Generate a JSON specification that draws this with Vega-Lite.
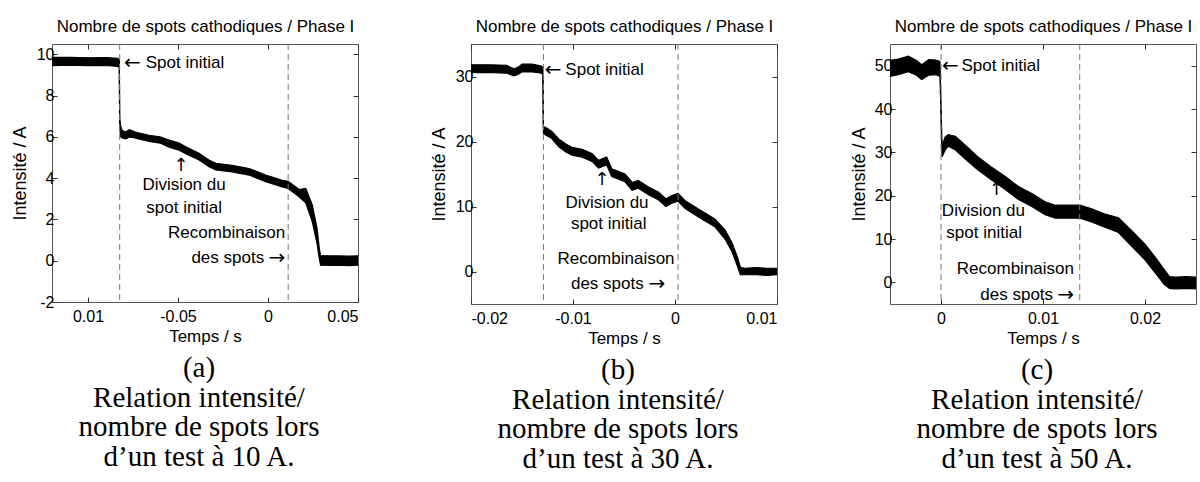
{
  "$schema": "https://vega.github.io/schema/vega-lite/v6.json",
  "background": "white",
  "padding": {"left": 10, "top": 17, "right": 0, "bottom": 0},
  "bounds": "flush",
  "spacing": 113,
  "config": {
    "font": "Liberation Sans",
    "view": {"stroke": "#555", "strokeWidth": 1},
    "axis": {
      "domain": false, "grid": false, "tickSize": -5, "tickColor": "#333",
      "labelFont": "Liberation Sans", "labelFontSize": 16, "labelColor": "black", "labelPadding": 3,
      "titleFont": "Liberation Sans", "titleFontSize": 17, "titleFontWeight": "normal", "titleColor": "black",
      "format": "~r", "labelExpr": "replace(datum.label, '−', '-')"
    },
    "axisBottom": {"labelPadding": 11},
    "title": {"font": "Liberation Serif", "fontSize": 29, "fontWeight": "normal", "lineHeight": 29.5, "color": "black", "orient": "bottom", "offset": 10, "dx": -6},
    "text": {"font": "Liberation Sans", "fontSize": 17, "color": "black"}
  },
  "hconcat": [
    {
      "width": 306, "height": 258,
      "title": {"text": ["(a)", "Relation intensité/", "nombre de spots lors", "d’un test à 10 A."]},
      "data": {"values": [
        {"t": -0.12, "lo": 9.45, "hi": 9.85}, {"t": -0.11, "lo": 9.47, "hi": 9.85}, {"t": -0.10, "lo": 9.45, "hi": 9.83},
        {"t": -0.09, "lo": 9.46, "hi": 9.84}, {"t": -0.0835, "lo": 9.42, "hi": 9.8}, {"t": -0.0826, "lo": 9.35, "hi": 9.72},
        {"t": -0.0824, "lo": 6.45, "hi": 6.9}, {"t": -0.0818, "lo": 6.0, "hi": 6.5}, {"t": -0.081, "lo": 5.95, "hi": 6.3},
        {"t": -0.079, "lo": 5.9, "hi": 6.25}, {"t": -0.077, "lo": 6.0, "hi": 6.35}, {"t": -0.074, "lo": 5.95, "hi": 6.25},
        {"t": -0.072, "lo": 5.9, "hi": 6.2}, {"t": -0.066, "lo": 5.78, "hi": 6.08}, {"t": -0.06, "lo": 5.7, "hi": 6.0},
        {"t": -0.055, "lo": 5.5, "hi": 5.85}, {"t": -0.0494, "lo": 5.35, "hi": 5.7}, {"t": -0.0457, "lo": 5.18, "hi": 5.52},
        {"t": -0.0383, "lo": 4.88, "hi": 5.2}, {"t": -0.0328, "lo": 4.55, "hi": 4.88}, {"t": -0.029, "lo": 4.4, "hi": 4.72},
        {"t": -0.02, "lo": 4.3, "hi": 4.62}, {"t": -0.0105, "lo": 4.15, "hi": 4.47}, {"t": -0.0013, "lo": 3.83, "hi": 4.15},
        {"t": 0.0079, "lo": 3.58, "hi": 3.9}, {"t": 0.0112, "lo": 3.5, "hi": 3.85}, {"t": 0.0173, "lo": 3.1, "hi": 3.45},
        {"t": 0.021, "lo": 2.8, "hi": 3.5}, {"t": 0.0246, "lo": 1.9, "hi": 2.7}, {"t": 0.0273, "lo": 0.8, "hi": 1.55},
        {"t": 0.0285, "lo": 0.1, "hi": 0.6}, {"t": 0.0292, "lo": -0.22, "hi": 0.25}, {"t": 0.035, "lo": -0.23, "hi": 0.24},
        {"t": 0.04, "lo": -0.22, "hi": 0.23}, {"t": 0.045, "lo": -0.24, "hi": 0.22}, {"t": 0.05, "lo": -0.22, "hi": 0.24}
      ]},
      "layer": [
        {
          "mark": {"type": "area", "color": "black", "interpolate": "linear"},
          "encoding": {
            "x": {"field": "t", "type": "quantitative", "scale": {"domain": [-0.12, 0.05], "nice": false, "zero": false},
                  "axis": {"orient": "bottom", "title": "Temps / s", "values": [-0.1, -0.05, 0, 0.05], "titlePadding": 4,
                           "labelExpr": "datum.value < -0.09 ? '0.01' : replace(datum.label, '−', '-')"}},
            "y": {"field": "lo", "type": "quantitative", "scale": {"domain": [-2, 10.5], "nice": false, "zero": false},
                  "axis": {"orient": "left", "title": "Intensité / A", "titleFontSize": 18, "values": [-2, 0, 2, 4, 6, 8, 10], "titlePadding": 7}},
            "y2": {"field": "hi"}
          }
        },
        {
          "mark": {"type": "line", "color": "black", "strokeWidth": 1.2},
          "encoding": {
            "x": {"field": "t", "type": "quantitative", "axis": {"orient": "top", "labels": false, "title": "Nombre de spots cathodiques / Phase I", "values": [-0.1, -0.05, 0, 0.05], "titlePadding": 8}},
            "y": {"field": "lo", "type": "quantitative", "axis": {"orient": "right", "labels": false, "title": null, "values": [-2, 0, 2, 4, 6, 8, 10]}}
          }
        },
        {
          "mark": {"type": "line", "color": "black", "strokeWidth": 1.2},
          "encoding": {
            "x": {"field": "t", "type": "quantitative", "axis": null},
            "y": {"field": "hi", "type": "quantitative", "axis": null}
          }
        },
        {
          "data": {"values": [{"t": -0.0824}, {"t": 0.0112}]},
          "mark": {"type": "rule", "color": "#777", "strokeDash": [6, 4], "strokeWidth": 1},
          "encoding": {"x": {"field": "t", "type": "quantitative", "axis": null}}
        },
        {
          "data": {"values": [{"t": -0.0679, "v": 9.6, "label": "Spot initial"}]},
          "mark": {"type": "text", "align": "left", "baseline": "middle"},
          "encoding": {"x": {"field": "t", "type": "quantitative", "axis": null}, "y": {"field": "v", "type": "quantitative", "axis": null}, "text": {"field": "label"}}
        },
        {
          "data": {"values": [{"t": -0.0466, "v": 3.67, "label": "Division du"}, {"t": -0.0466, "v": 2.56, "label": "spot initial"}]},
          "mark": {"type": "text", "align": "center", "baseline": "middle"},
          "encoding": {"x": {"field": "t", "type": "quantitative", "axis": null}, "y": {"field": "v", "type": "quantitative", "axis": null}, "text": {"field": "label"}}
        },
        {
          "data": {"values": [{"t": 0.0096, "v": 1.36, "label": "Recombinaison"}, {"t": -0.00213, "v": 0.11, "label": "des spots"}]},
          "mark": {"type": "text", "align": "right", "baseline": "middle"},
          "encoding": {"x": {"field": "t", "type": "quantitative", "axis": null}, "y": {"field": "v", "type": "quantitative", "axis": null}, "text": {"field": "label"}}
        },
        {
          "data": {"values": [{"t": -0.08, "v": 9.6, "label": "←"}]},
          "mark": {"type": "text", "align": "left", "baseline": "middle", "font": "DejaVu Sans", "fontSize": 20},
          "encoding": {"x": {"field": "t", "type": "quantitative", "axis": null}, "y": {"field": "v", "type": "quantitative", "axis": null}, "text": {"field": "label"}}
        },
        {
          "data": {"values": [{"t": 0.0096, "v": 0.11, "label": "→"}]},
          "mark": {"type": "text", "align": "right", "baseline": "middle", "font": "DejaVu Sans", "fontSize": 20},
          "encoding": {"x": {"field": "t", "type": "quantitative", "axis": null}, "y": {"field": "v", "type": "quantitative", "axis": null}, "text": {"field": "label"}}
        },
        {
          "data": {"values": [{"t": -0.0483, "v": 4.58, "label": "↑"}]},
          "mark": {"type": "text", "align": "center", "baseline": "middle", "font": "DejaVu Sans", "fontSize": 18},
          "encoding": {"x": {"field": "t", "type": "quantitative", "axis": null}, "y": {"field": "v", "type": "quantitative", "axis": null}, "text": {"field": "label"}}
        }
      ],
      "resolve": {"axis": {"x": "independent", "y": "independent"}}
    },
    {
      "width": 306, "height": 260,
      "title": {"text": ["(b)", "Relation intensité/", "nombre de spots lors", "d’un test à 30 A."]},
      "data": {"values": [
        {"t": -0.02, "lo": 30.6, "hi": 31.8}, {"t": -0.018, "lo": 30.6, "hi": 31.8}, {"t": -0.0165, "lo": 30.5, "hi": 31.7},
        {"t": -0.0158, "lo": 30.1, "hi": 31.2}, {"t": -0.0154, "lo": 30.3, "hi": 31.4}, {"t": -0.015, "lo": 30.7, "hi": 31.9},
        {"t": -0.014, "lo": 30.7, "hi": 31.9}, {"t": -0.0131, "lo": 30.5, "hi": 31.6}, {"t": -0.01295, "lo": 30.3, "hi": 31.4},
        {"t": -0.0129, "lo": 21.3, "hi": 22.3}, {"t": -0.0127, "lo": 21.0, "hi": 22.2}, {"t": -0.0121, "lo": 20.5, "hi": 21.6},
        {"t": -0.0114, "lo": 19.2, "hi": 20.4}, {"t": -0.0107, "lo": 18.4, "hi": 19.6}, {"t": -0.0101, "lo": 17.9, "hi": 19.1},
        {"t": -0.0091, "lo": 17.6, "hi": 18.8}, {"t": -0.0081, "lo": 16.9, "hi": 18.1}, {"t": -0.0075, "lo": 15.9, "hi": 17.1},
        {"t": -0.0067, "lo": 16.4, "hi": 17.6}, {"t": -0.0062, "lo": 14.6, "hi": 15.8}, {"t": -0.0049, "lo": 13.8, "hi": 15.0},
        {"t": -0.0042, "lo": 12.5, "hi": 13.7}, {"t": -0.0036, "lo": 12.8, "hi": 14.0}, {"t": -0.0026, "lo": 11.8, "hi": 13.0},
        {"t": -0.0016, "lo": 11.0, "hi": 12.2}, {"t": -0.0009, "lo": 10.0, "hi": 11.2}, {"t": -0.0003, "lo": 10.5, "hi": 11.7},
        {"t": 0.0003, "lo": 10.8, "hi": 12.0}, {"t": 0.001, "lo": 9.7, "hi": 10.9}, {"t": 0.0023, "lo": 8.4, "hi": 9.6},
        {"t": 0.0039, "lo": 6.9, "hi": 8.1}, {"t": 0.0049, "lo": 5.0, "hi": 6.4}, {"t": 0.0056, "lo": 3.0, "hi": 4.4},
        {"t": 0.0061, "lo": 0.9, "hi": 2.3}, {"t": 0.0064, "lo": -0.5, "hi": 0.7}, {"t": 0.0068, "lo": -0.5, "hi": 0.5},
        {"t": 0.008, "lo": -0.5, "hi": 0.6}, {"t": 0.009, "lo": -0.6, "hi": 0.5}, {"t": 0.01, "lo": -0.5, "hi": 0.5}
      ]},
      "layer": [
        {
          "mark": {"type": "area", "color": "black", "interpolate": "linear"},
          "encoding": {
            "x": {"field": "t", "type": "quantitative", "scale": {"domain": [-0.02, 0.01], "nice": false, "zero": false},
                  "axis": {"orient": "bottom", "title": "Temps / s", "values": [-0.02, -0.01, 0, 0.01], "titlePadding": 4}},
            "y": {"field": "lo", "type": "quantitative", "scale": {"domain": [-5, 35], "nice": false, "zero": false},
                  "axis": {"orient": "left", "title": "Intensité / A", "titleFontSize": 18, "values": [0, 10, 20, 30], "titlePadding": 7}},
            "y2": {"field": "hi"}
          }
        },
        {
          "mark": {"type": "line", "color": "black", "strokeWidth": 1.2},
          "encoding": {
            "x": {"field": "t", "type": "quantitative", "axis": {"orient": "top", "labels": false, "title": "Nombre de spots cathodiques / Phase I", "values": [-0.02, -0.01, 0, 0.01], "titlePadding": 8}},
            "y": {"field": "lo", "type": "quantitative", "axis": {"orient": "right", "labels": false, "title": null, "values": [0, 10, 20, 30]}}
          }
        },
        {
          "mark": {"type": "line", "color": "black", "strokeWidth": 1.2},
          "encoding": {
            "x": {"field": "t", "type": "quantitative", "axis": null},
            "y": {"field": "hi", "type": "quantitative", "axis": null}
          }
        },
        {
          "data": {"values": [{"t": -0.0129}, {"t": 0.0003}]},
          "mark": {"type": "rule", "color": "#777", "strokeDash": [6, 4], "strokeWidth": 1},
          "encoding": {"x": {"field": "t", "type": "quantitative", "axis": null}}
        },
        {
          "data": {"values": [{"t": -0.01075, "v": 31.0, "label": "Spot initial"}]},
          "mark": {"type": "text", "align": "left", "baseline": "middle"},
          "encoding": {"x": {"field": "t", "type": "quantitative", "axis": null}, "y": {"field": "v", "type": "quantitative", "axis": null}, "text": {"field": "label"}}
        },
        {
          "data": {"values": [{"t": -0.00667, "v": 10.57, "label": "Division du"}, {"t": -0.0065, "v": 7.25, "label": "spot initial"}]},
          "mark": {"type": "text", "align": "center", "baseline": "middle"},
          "encoding": {"x": {"field": "t", "type": "quantitative", "axis": null}, "y": {"field": "v", "type": "quantitative", "axis": null}, "text": {"field": "label"}}
        },
        {
          "data": {"values": [{"t": -0.00004, "v": 1.89, "label": "Recombinaison"}, {"t": -0.00307, "v": -1.95, "label": "des spots"}]},
          "mark": {"type": "text", "align": "right", "baseline": "middle"},
          "encoding": {"x": {"field": "t", "type": "quantitative", "axis": null}, "y": {"field": "v", "type": "quantitative", "axis": null}, "text": {"field": "label"}}
        },
        {
          "data": {"values": [{"t": -0.01278, "v": 31.0, "label": "←"}]},
          "mark": {"type": "text", "align": "left", "baseline": "middle", "font": "DejaVu Sans", "fontSize": 20},
          "encoding": {"x": {"field": "t", "type": "quantitative", "axis": null}, "y": {"field": "v", "type": "quantitative", "axis": null}, "text": {"field": "label"}}
        },
        {
          "data": {"values": [{"t": -0.00095, "v": -1.95, "label": "→"}]},
          "mark": {"type": "text", "align": "right", "baseline": "middle", "font": "DejaVu Sans", "fontSize": 20},
          "encoding": {"x": {"field": "t", "type": "quantitative", "axis": null}, "y": {"field": "v", "type": "quantitative", "axis": null}, "text": {"field": "label"}}
        },
        {
          "data": {"values": [{"t": -0.00716, "v": 14.05, "label": "↑"}]},
          "mark": {"type": "text", "align": "center", "baseline": "middle", "font": "DejaVu Sans", "fontSize": 18},
          "encoding": {"x": {"field": "t", "type": "quantitative", "axis": null}, "y": {"field": "v", "type": "quantitative", "axis": null}, "text": {"field": "label"}}
        }
      ],
      "resolve": {"axis": {"x": "independent", "y": "independent"}}
    },
    {
      "width": 306, "height": 260,
      "title": {"text": ["(c)", "Relation intensité/", "nombre de spots lors", "d’un test à 50 A."]},
      "data": {"values": [
        {"t": -0.005, "lo": 47.5, "hi": 51.2}, {"t": -0.0042, "lo": 47.9, "hi": 51.5}, {"t": -0.0032, "lo": 48.6, "hi": 52.2},
        {"t": -0.0024, "lo": 47.8, "hi": 51.2}, {"t": -0.0019, "lo": 46.8, "hi": 50.2}, {"t": -0.0012, "lo": 47.8, "hi": 51.4},
        {"t": -0.0005, "lo": 47.9, "hi": 51.3}, {"t": -0.0001, "lo": 47.5, "hi": 51.0},
        {"t": 0.0001, "lo": 29.0, "hi": 31.5}, {"t": 0.0004, "lo": 30.5, "hi": 33.5}, {"t": 0.0007, "lo": 31.4, "hi": 34.1},
        {"t": 0.0014, "lo": 30.6, "hi": 33.7}, {"t": 0.0023, "lo": 28.6, "hi": 31.8}, {"t": 0.0036, "lo": 26.0, "hi": 29.0},
        {"t": 0.0049, "lo": 23.7, "hi": 26.7}, {"t": 0.0063, "lo": 21.4, "hi": 24.4}, {"t": 0.0076, "lo": 19.1, "hi": 22.1},
        {"t": 0.0089, "lo": 17.5, "hi": 20.5}, {"t": 0.0102, "lo": 15.6, "hi": 18.6}, {"t": 0.0112, "lo": 14.8, "hi": 17.8},
        {"t": 0.0121, "lo": 14.8, "hi": 17.8}, {"t": 0.0136, "lo": 14.8, "hi": 17.8}, {"t": 0.0147, "lo": 14.0, "hi": 17.0},
        {"t": 0.016, "lo": 12.8, "hi": 15.8}, {"t": 0.0174, "lo": 11.5, "hi": 14.9}, {"t": 0.0187, "lo": 8.3, "hi": 11.9},
        {"t": 0.02, "lo": 5.2, "hi": 8.8}, {"t": 0.021, "lo": 2.2, "hi": 5.8}, {"t": 0.0219, "lo": -0.5, "hi": 2.9},
        {"t": 0.0224, "lo": -1.4, "hi": 1.3}, {"t": 0.023, "lo": -1.5, "hi": 1.2}, {"t": 0.024, "lo": -1.4, "hi": 1.3},
        {"t": 0.025, "lo": -1.5, "hi": 1.2}
      ]},
      "layer": [
        {
          "mark": {"type": "area", "color": "black", "interpolate": "linear"},
          "encoding": {
            "x": {"field": "t", "type": "quantitative", "scale": {"domain": [-0.005, 0.025], "nice": false, "zero": false},
                  "axis": {"orient": "bottom", "title": "Temps / s", "values": [0, 0.01, 0.02], "titlePadding": 4}},
            "y": {"field": "lo", "type": "quantitative", "scale": {"domain": [-5, 55], "nice": false, "zero": false},
                  "axis": {"orient": "left", "title": "Intensité / A", "titleFontSize": 18, "values": [0, 10, 20, 30, 40, 50], "titlePadding": 6}},
            "y2": {"field": "hi"}
          }
        },
        {
          "mark": {"type": "line", "color": "black", "strokeWidth": 1.2},
          "encoding": {
            "x": {"field": "t", "type": "quantitative", "axis": {"orient": "top", "labels": false, "title": "Nombre de spots cathodiques / Phase I", "values": [0, 0.01, 0.02], "titlePadding": 8}},
            "y": {"field": "lo", "type": "quantitative", "axis": {"orient": "right", "labels": false, "title": null, "values": [0, 10, 20, 30, 40, 50]}}
          }
        },
        {
          "mark": {"type": "line", "color": "black", "strokeWidth": 1.2},
          "encoding": {
            "x": {"field": "t", "type": "quantitative", "axis": null},
            "y": {"field": "hi", "type": "quantitative", "axis": null}
          }
        },
        {
          "data": {"values": [{"t": 0.0}, {"t": 0.0136}]},
          "mark": {"type": "rule", "color": "#777", "strokeDash": [6, 4], "strokeWidth": 1},
          "encoding": {"x": {"field": "t", "type": "quantitative", "axis": null}}
        },
        {
          "data": {"values": [{"t": 0.00201, "v": 50.0, "label": "Spot initial"}]},
          "mark": {"type": "text", "align": "left", "baseline": "middle"},
          "encoding": {"x": {"field": "t", "type": "quantitative", "axis": null}, "y": {"field": "v", "type": "quantitative", "axis": null}, "text": {"field": "label"}}
        },
        {
          "data": {"values": [{"t": 0.00416, "v": 16.5, "label": "Division du"}, {"t": 0.00423, "v": 11.4, "label": "spot initial"}]},
          "mark": {"type": "text", "align": "center", "baseline": "middle"},
          "encoding": {"x": {"field": "t", "type": "quantitative", "axis": null}, "y": {"field": "v", "type": "quantitative", "axis": null}, "text": {"field": "label"}}
        },
        {
          "data": {"values": [{"t": 0.01304, "v": 3.12, "label": "Recombinaison"}, {"t": 0.01099, "v": -2.86, "label": "des spots"}]},
          "mark": {"type": "text", "align": "right", "baseline": "middle"},
          "encoding": {"x": {"field": "t", "type": "quantitative", "axis": null}, "y": {"field": "v", "type": "quantitative", "axis": null}, "text": {"field": "label"}}
        },
        {
          "data": {"values": [{"t": 0.0001, "v": 50.0, "label": "←"}]},
          "mark": {"type": "text", "align": "left", "baseline": "middle", "font": "DejaVu Sans", "fontSize": 20},
          "encoding": {"x": {"field": "t", "type": "quantitative", "axis": null}, "y": {"field": "v", "type": "quantitative", "axis": null}, "text": {"field": "label"}}
        },
        {
          "data": {"values": [{"t": 0.01304, "v": -2.86, "label": "→"}]},
          "mark": {"type": "text", "align": "right", "baseline": "middle", "font": "DejaVu Sans", "fontSize": 20},
          "encoding": {"x": {"field": "t", "type": "quantitative", "axis": null}, "y": {"field": "v", "type": "quantitative", "axis": null}, "text": {"field": "label"}}
        },
        {
          "data": {"values": [{"t": 0.00544, "v": 21.3, "label": "↑"}]},
          "mark": {"type": "text", "align": "center", "baseline": "middle", "font": "DejaVu Sans", "fontSize": 18},
          "encoding": {"x": {"field": "t", "type": "quantitative", "axis": null}, "y": {"field": "v", "type": "quantitative", "axis": null}, "text": {"field": "label"}}
        }
      ],
      "resolve": {"axis": {"x": "independent", "y": "independent"}}
    }
  ]
}
